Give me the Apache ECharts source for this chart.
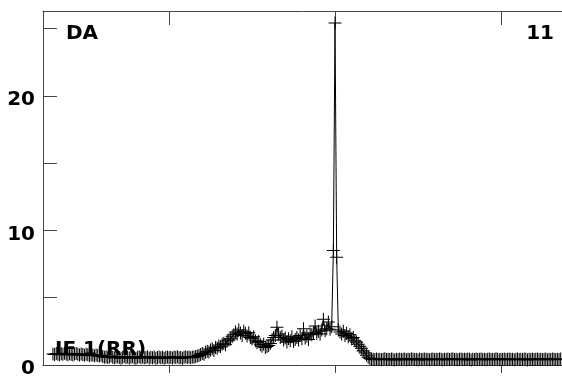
<!DOCTYPE html>
<html>
<head>
<meta charset="utf-8">
<script src="https://cdn.jsdelivr.net/npm/echarts@6/dist/echarts.min.js"></script>
<style>html,body{margin:0;padding:0;background:#fff}#c{width:562px;height:379px}</style>
</head>
<body>
<div id="c"></div>
<script>
// ---- data ----
const xStart = -85;      // first channel position
const xStep = 0.5;       // channel width
const flux = [
0.82,0.78,0.85,0.80,0.76,0.83,0.79,0.87,0.81,0.77,0.84,0.80,0.75,0.82,0.86,0.79,0.74,0.81,0.78,0.72,0.80,0.76,0.70,0.77,0.73,0.68,0.75,0.71,0.66,0.72,
0.64,0.58,0.61,0.55,0.60,0.66,0.57,0.53,0.59,0.62,
0.56,0.51,0.58,0.63,0.55,0.60,0.52,0.57,0.61,0.54,
0.50,0.58,0.62,0.55,0.59,0.53,0.56,0.61,0.52,0.57,
0.54,0.60,0.51,0.56,0.59,0.53,0.58,0.50,0.55,0.60,
0.54,0.57,0.52,0.59,0.55,0.61,0.53,0.56,0.50,0.58,
0.62,0.55,0.59,0.54,0.60,0.57,0.63,0.66,0.70,
0.78,0.85,0.80,0.95,1.02,0.96,1.12,1.20,1.08,1.30,1.25,1.42,1.35,1.55,1.62,1.50,1.78,1.85,1.95,2.10,
2.25,2.45,2.30,2.60,2.38,2.20,2.50,2.35,2.15,2.40,2.05,
1.95,2.10,1.80,1.65,1.75,1.50,1.40,1.55,1.30,1.38,
1.45,1.60,1.85,2.05,2.20,2.80,2.30,2.05,
2.15,1.85,2.00,1.70,1.95,1.80,2.10,1.75,1.90,2.05,1.85,2.20,1.95,2.70,2.00,2.15,1.90,2.30,
2.25,2.40,2.90,2.35,2.50,2.30,2.60,3.40,2.55,2.70,3.20,2.65,2.85,
8.5,25.4,8.0,
2.60,2.45,2.30,2.50,2.20,2.35,2.10,2.25,1.95,2.05,1.80,1.70,1.55,1.40,1.25,1.05,0.90,0.72,0.58,0.48,
0.45,0.42,0.40,0.44,0.41,0.43,0.39,0.42,0.46,0.41,
0.43,0.40,0.44,0.42,0.38,0.43,0.41,0.45,0.40,0.42,
0.44,0.39,0.43,0.41,0.46,0.42,0.40,0.43,0.38,0.44,
0.41,0.42,0.45,0.40,0.43,0.39,0.42,0.44,0.41,0.43,
0.40,0.45,0.42,0.39,0.43,0.41,0.44,0.40,0.42,0.46,
0.41,0.43,0.39,0.42,0.44,0.40,0.43,0.41,0.45,0.42,
0.38,0.43,0.41,0.44,0.40,0.42,0.45,0.41,0.43,0.39,
0.42,0.44,0.40,0.43,0.41,0.46,0.42,0.39,0.43,0.41,
0.44,0.40,0.42,0.45,0.41,0.43,0.39,0.42,0.44,0.40,
0.43,0.41,0.45,0.42,0.38,0.43,0.41,0.44,0.40,0.42,
0.45,0.41,0.43,0.40,0.42,0.44,0.39,0.43,0.41,0.45,
0.42,0.40,0.43,0.41,0.44,0.42,0.40,0.43
];
const xTicks = [-50, 0, 50];
const yLabelValues = [0, 10, 20];
const labelTopLeft = 'DA';
const labelTopRight = '11';
const labelBottomLeft = 'IF 1(RR)';

// ---- chart ----
const points = flux.map((v, i) => [xStart + i * xStep, v]);
const axisColor = '#444';
const font = '"DejaVu Sans", Verdana, sans-serif';
const chart = echarts.init(document.getElementById('c'), null, {renderer: 'canvas'});
const xCommon = {
  type: 'value', min: -88, max: 68.4,
  axisLine: {show: true, onZero: false, lineStyle: {color: axisColor, width: 1}},
  axisLabel: {show: false},
  splitLine: {show: false}
};
chart.setOption({
  animation: false,
  backgroundColor: '#fff',
  grid: {left: 43, right: 0, top: 11, bottom: 7, containLabel: false},
  xAxis: [
    Object.assign({}, xCommon, {position: 'bottom',
      axisTick: {show: true, inside: false, length: 8, customValues: xTicks, lineStyle: {color: axisColor}}}),
    Object.assign({}, xCommon, {position: 'top',
      axisTick: {show: true, inside: true, length: 14, customValues: xTicks, lineStyle: {color: axisColor}}})
  ],
  yAxis: {
    type: 'value', min: 0, max: 26.3, interval: 5,
    axisLine: {show: true, onZero: false, lineStyle: {color: axisColor, width: 1}},
    axisTick: {show: true, inside: true, length: 14, lineStyle: {color: axisColor}},
    axisLabel: {
      show: true, margin: 8, color: '#000', fontWeight: 'bold', fontSize: 20, fontFamily: font,
      verticalAlign: 'top', lineHeight: 8,
      showMaxLabel: false,
      formatter: v => (yLabelValues.indexOf(v) >= 0 ? String(v) : '')
    },
    splitLine: {show: false}
  },
  series: [{
    type: 'line',
    xAxisIndex: 0,
    data: points,
    showAllSymbol: true,
    symbol: 'path://M6.45,0h1.1v14h-1.1zM0,6.45h14v1.1h-14z',
    symbolSize: 13,
    itemStyle: {color: '#000'},
    lineStyle: {color: '#000', width: 1},
    clip: true
  }],
  graphic: [
    {type: 'text', left: 66, top: 24, style: {text: labelTopLeft, fill: '#000', font: 'bold 20px ' + font}},
    {type: 'text', right: 8, top: 24, style: {text: labelTopRight, fill: '#000', font: 'bold 20px ' + font}},
    {type: 'text', left: 55, top: 340, style: {text: labelBottomLeft, fill: '#000', font: 'bold 20px ' + font}}
  ]
});
</script>
</body>
</html>
